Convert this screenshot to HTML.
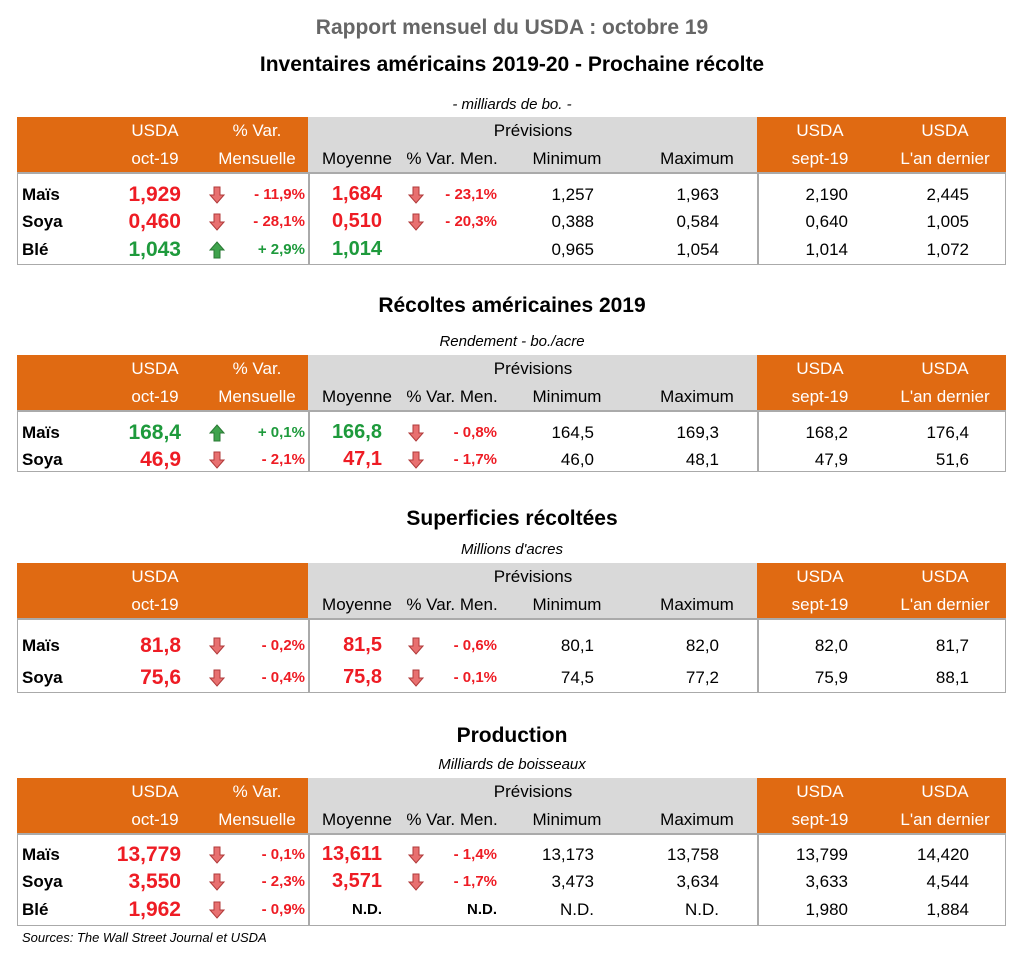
<!DOCTYPE html>
<html><head><meta charset="utf-8">
<style>
body{margin:0;width:1024px;height:955px;background:#fff;font-family:"Liberation Sans",sans-serif;position:relative;overflow:hidden}
.a{position:absolute;white-space:nowrap}
.t{left:0;width:1024px;text-align:center;font-weight:bold}
.sub{left:0;width:1024px;text-align:center;font-style:italic;font-size:15px}
.hd{font-size:17px;transform:translateX(-50%)}
.ho{color:#fff}
.r{text-align:right;transform:translateX(-100%)}
</style></head><body>
<div class="a t" style="top:16px;font-size:21px;color:#666">Rapport mensuel du USDA : octobre 19</div>
<div class="a t" style="top:53px;font-size:21px">Inventaires américains 2019-20 - Prochaine récolte</div>
<div class="a" style="left:22px;top:930px;font-size:13px;font-style:italic">Sources: The Wall Street Journal et USDA</div>
<script>
const tables=[
 {name:'inventaires',title:null,sub:'- milliards de bo.  -',subY:96,top:117,bodyH:93,pctHead:true,
  rows:[
   ['Maïs','1,929','r','down','- 11,9%','1,684','down','- 23,1%','1,257','1,963','2,190','2,445'],
   ['Soya','0,460','r','down','- 28,1%','0,510','down','- 20,3%','0,388','0,584','0,640','1,005'],
   ['Blé','1,043','g','up','+ 2,9%','1,014','','','0,965','1,054','1,014','1,072']],rowY:[195,222,250]},
 {name:'recoltes',title:'Récoltes américaines 2019',titleY:294,sub:'Rendement - bo./acre',subY:333,top:355,bodyH:62,pctHead:true,
  rows:[
   ['Maïs','168,4','g','up','+ 0,1%','166,8','down','- 0,8%','164,5','169,3','168,2','176,4'],
   ['Soya','46,9','r','down','- 2,1%','47,1','down','- 1,7%','46,0','48,1','47,9','51,6']],rowY:[433,460]},
 {name:'superficies',title:'Superficies récoltées',titleY:507,sub:"Millions d'acres",subY:541,top:563,bodyH:75,pctHead:false,
  rows:[
   ['Maïs','81,8','r','down','- 0,2%','81,5','down','- 0,6%','80,1','82,0','82,0','81,7'],
   ['Soya','75,6','r','down','- 0,4%','75,8','down','- 0,1%','74,5','77,2','75,9','88,1']],rowY:[646,678]},
 {name:'production',title:'Production',titleY:724,sub:'Milliards de boisseaux',subY:756,top:778,bodyH:93,pctHead:true,
  rows:[
   ['Maïs','13,779','r','down','- 0,1%','13,611','down','- 1,4%','13,173','13,758','13,799','14,420'],
   ['Soya','3,550','r','down','- 2,3%','3,571','down','- 1,7%','3,473','3,634','3,633','4,544'],
   ['Blé','1,962','r','down','- 0,9%','N.D.','','N.D.','N.D.','N.D.','1,980','1,884']],rowY:[855,882,910]}
];
function div(cls,name,style,text){
 const d=document.createElement('div');
 d.className='a '+cls;
 
 
 d.setAttribute('style',style);
 if(text!==undefined)d.textContent=text;
 document.body.appendChild(d);return d;
}
function arrow(x,y,dir,name){
 const s=document.createElementNS('http://www.w3.org/2000/svg','svg');
 
 
 s.setAttribute('width','16');s.setAttribute('height','18');
 s.setAttribute('style','position:absolute;left:'+(x-8)+'px;top:'+(y-9)+'px');
 const p=document.createElementNS('http://www.w3.org/2000/svg','path');
 const up=dir==='up';
 p.setAttribute('d',up?'M8 1 L15 9 L11 9 L11 17 L5 17 L5 9 L1 9 Z':'M8 17 L15 9 L11 9 L11 1 L5 1 L5 9 L1 9 Z');
 p.setAttribute('fill',up?'#3fa34d':'#e87070');
 p.setAttribute('stroke',up?'#2a7a34':'#b03a3a');
 p.setAttribute('stroke-width','1');
 s.appendChild(p);document.body.appendChild(s);
}
const RED='#ee1c24',GRN='#1e9a3c';
tables.forEach(T=>{
 const n=T.name;
 if(T.title)div('t',n+'-title','top:'+T.titleY+'px;font-size:21px',T.title);
 div('sub',n+'-subtitle','top:'+T.subY+'px',T.sub);
 const h=T.top;
 div('',n+'-header-left','left:17px;top:'+h+'px;width:291px;height:55px;background:#e06a12');
 div('',n+'-header-mid','left:308px;top:'+h+'px;width:449px;height:55px;background:#d9d9d9');
 div('',n+'-header-right','left:757px;top:'+h+'px;width:249px;height:55px;background:#e06a12');
 div('',n+'-body','left:17px;top:'+(h+55)+'px;height:'+T.bodyH+'px;border:1px solid #aaa;border-top:2px solid #aaa;box-sizing:border-box;width:989px');
 div('',n+'-divider-1','left:308px;top:'+(h+55)+'px;width:2px;height:'+T.bodyH+'px;background:#aaa');
 div('',n+'-divider-2','left:757px;top:'+(h+55)+'px;width:2px;height:'+T.bodyH+'px;background:#aaa');
 const y1=h+4,y2=h+32;
 div('hd ho',n+'-h-usda','left:155px;top:'+y1+'px','USDA');
 div('hd ho',n+'-h-oct','left:155px;top:'+y2+'px','oct-19');
 if(T.pctHead){div('hd ho',n+'-h-var','left:257px;top:'+y1+'px','% Var.');div('hd ho',n+'-h-mens','left:257px;top:'+y2+'px','Mensuelle');}
 div('hd',n+'-h-previsions','left:533px;top:'+y1+'px','Prévisions');
 div('hd',n+'-h-moyenne','left:357px;top:'+y2+'px','Moyenne');
 div('hd',n+'-h-varmen','left:452px;top:'+y2+'px','% Var. Men.');
 div('hd',n+'-h-minimum','left:567px;top:'+y2+'px','Minimum');
 div('hd',n+'-h-maximum','left:697px;top:'+y2+'px','Maximum');
 div('hd ho',n+'-h-usda2','left:820px;top:'+y1+'px','USDA');
 div('hd ho',n+'-h-sept','left:820px;top:'+y2+'px','sept-19');
 div('hd ho',n+'-h-usda3','left:945px;top:'+y1+'px','USDA');
 div('hd ho',n+'-h-last','left:945px;top:'+y2+'px',"L'an dernier");
 T.rows.forEach((r,i)=>{
  const cy=T.rowY[i];const c=r[2]==='g'?GRN:RED;const rn=n+'-'+r[0].toLowerCase();
  div('',rn+'-name','left:22px;top:'+(cy-10)+'px;font-size:17px;font-weight:bold',r[0]);
  div('r',rn+'-oct','left:181px;top:'+(cy-12)+'px;font-size:21px;font-weight:bold;color:'+c,r[1]);
  if(r[3])arrow(217,cy,r[3],rn+'-arrow');
  div('r',rn+'-var','left:305px;top:'+(cy-9)+'px;font-size:15px;font-weight:bold;color:'+c,r[4]);
  const nd=r[5]==='N.D.';
  div('r',rn+'-moyenne','left:382px;top:'+(cy-(nd?9:12))+'px;font-size:'+(nd?15:20)+'px;font-weight:bold;color:'+(nd?'#000':c),r[5]);
  if(r[6])arrow(416,cy,r[6],rn+'-moy-arrow');
  if(r[7])div('r',rn+'-varmen','left:497px;top:'+(cy-9)+'px;font-size:15px;font-weight:bold;color:'+(nd?'#000':RED),r[7]);
  div('r',rn+'-min','left:594px;top:'+(cy-10)+'px;font-size:17px',r[8]);
  div('r',rn+'-max','left:719px;top:'+(cy-10)+'px;font-size:17px',r[9]);
  div('r',rn+'-sept','left:848px;top:'+(cy-10)+'px;font-size:17px',r[10]);
  div('r',rn+'-last','left:969px;top:'+(cy-10)+'px;font-size:17px',r[11]);
 });
});
</script>
</body></html>
